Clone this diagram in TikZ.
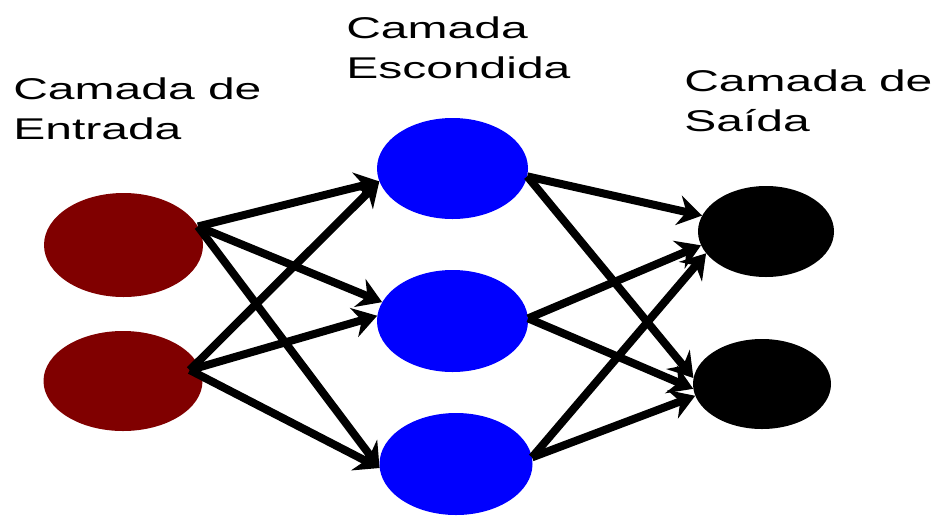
\documentclass[tikz,border=0pt]{standalone}
\usepackage{fontspec}
\setmainfont{Liberation Sans}
\usetikzlibrary{arrows.meta,shapes.geometric}
\definecolor{inred}{HTML}{800000}
\definecolor{hidblue}{HTML}{0000FF}
\begin{document}
\begin{tikzpicture}[x=1pt,y=-1pt,
  neuron/.style={ellipse,draw=none,inner sep=0pt},
  layerlabel/.style={anchor=base west,inner sep=0pt,align=left,
    xscale=1.6,transform shape,font=\fontsize{30}{40}\selectfont},
  link/.style={line width=8pt,
    -{Stealth[length=24pt,width=30pt,inset=8pt]}}]
\useasboundingbox (0,0) rectangle (942,515);

% layer titles (anchored at the baseline of their last line)
\node[layerlabel] (tin) at (13,139) {Camada de\\Entrada};
\node[layerlabel] (thid) at (346,78) {Camada\\Escondida};
\node[layerlabel] (tout) at (684,131) {Camada de\\Saída};

% input layer
\node[neuron,fill=inred,minimum width=159pt,minimum height=104pt] (i1) at (123.5,245) {};
\node[neuron,fill=inred,minimum width=159pt,minimum height=100pt] (i2) at (123,381) {};
% hidden layer
\node[neuron,fill=hidblue,minimum width=151pt,minimum height=101pt] (h1) at (452.5,168.5) {};
\node[neuron,fill=hidblue,minimum width=151pt,minimum height=102pt] (h2) at (452.5,321) {};
\node[neuron,fill=hidblue,minimum width=153pt,minimum height=102pt] (h3) at (456,464) {};
% output layer
\node[neuron,fill=black,minimum width=136pt,minimum height=91pt] (o1) at (766,231.5) {};
\node[neuron,fill=black,minimum width=138pt,minimum height=90pt] (o2) at (762,384) {};

% fan-out point of the lower input neuron
\coordinate (i2o) at ([xshift=-11pt]i2.8);

% input -> hidden
\draw[link] (i1.14) -- (h1.190);
\draw[link] (i1.14) -- (h2.165);
\draw[link] (i1.14) -- (h3.183);
\draw[link] (i2o) -- (h1.190);
\draw[link] (i2o) -- (h2.176);
\draw[link] (i2o) -- (h3.183);

% hidden -> output
\draw[link] (h1.-6) -- (o1.166);
\draw[link] (h1.-6) -- (o2.175);
\draw[link] (h2.2) -- (o1.192);
\draw[link] (h2.2) -- (o2.184);
\draw[link] (h3.5) -- (o1.200);
\draw[link] (h3.5) -- (o2.190);
\end{tikzpicture}
\end{document}
